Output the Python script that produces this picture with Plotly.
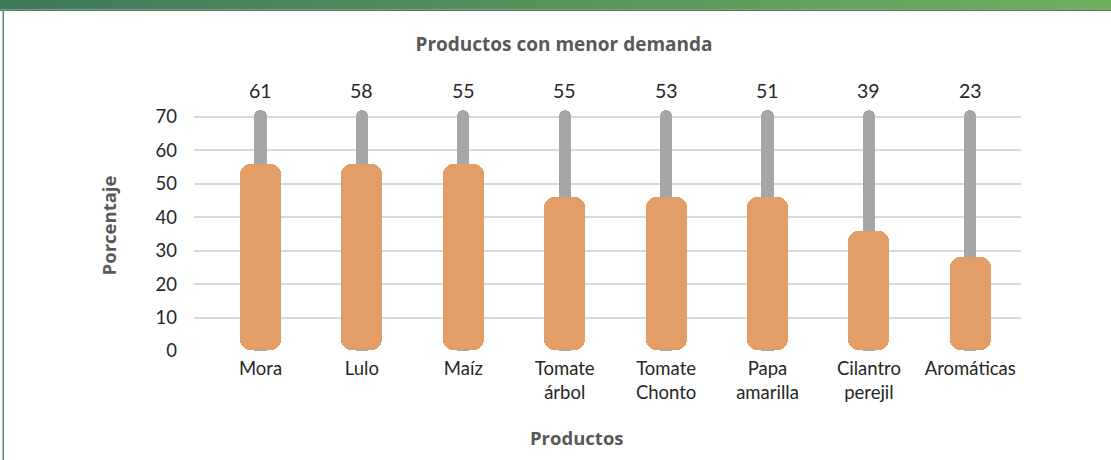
import plotly.graph_objects as go

categories = ["Mora", "Lulo", "Maíz", "Tomate<br>árbol", "Tomate<br>Chonto",
              "Papa<br>amarilla", "Cilantro<br>perejil", "Aromáticas"]
label_values = [61, 58, 55, 55, 53, 51, 39, 23]
bar_heights = [56, 56, 56, 46, 46, 46, 36, 28]
track_heights = [72, 72, 72, 72, 72, 72, 72, 72]
y_ticks = [0, 10, 20, 30, 40, 50, 60, 70]

W, H = 1111, 460
L, R, T, B = 194, 1021, 100, 351

ORANGE = "#e29e66"
GRAY = "#a6a6a6"
FONT = "Lato, 'Open Sans', sans-serif"
TFONT = "'Open Sans', sans-serif"

fig = go.Figure()

def px_x(p):
    return (p - L) / (R - L)

def px_y(p):
    return (B - p) / (B - T)

# gray track bars
fig.add_trace(go.Bar(x=categories, y=track_heights, width=0.12,
                     marker=dict(color=GRAY, cornerradius=6, line=dict(width=0)),
                     hoverinfo="skip", showlegend=False))
# orange bars (base set so both ends get rounded)
fig.add_trace(go.Bar(x=categories, y=[h - 0.3 for h in bar_heights], base=[0.3] * len(bar_heights),
                     width=0.405,
                     marker=dict(color=ORANGE, cornerradius=10, line=dict(width=0)),
                     showlegend=False))

# value labels above
for c, v in zip(categories, label_values):
    fig.add_annotation(x=c, y=px_y(90), text=str(v), showarrow=False, xref="x", yref="paper",
                       yanchor="middle",
                       font=dict(family=FONT, size=19.5, color="#262626"))

# x axis title
fig.add_annotation(x=px_x(577), y=px_y(437), xref="paper", yref="paper",
                   text="<b>Productos</b>", showarrow=False, yanchor="middle",
                   font=dict(family=TFONT, size=18.5, color="#595959"))

shapes = []
# green gradient band on top
n = 60
c0 = (0x3e, 0x7a, 0x5b)
c1 = (0x70, 0xae, 0x5e)
for i in range(n):
    t = i / (n - 1)
    col = "rgb(%d,%d,%d)" % tuple(round(a + (b - a) * t) for a, b in zip(c0, c1))
    x0 = W * i / n
    x1 = W * (i + 1) / n + 1
    shapes.append(dict(type="rect", xref="paper", yref="paper",
                       x0=px_x(x0), x1=px_x(x1), y0=px_y(9.5), y1=px_y(-1),
                       fillcolor=col, line=dict(width=0), layer="above"))
shapes.append(dict(type="rect", xref="paper", yref="paper",
                   x0=px_x(0), x1=px_x(W), y0=px_y(11), y1=px_y(9.5),
                   fillcolor="#4e7d5a", line=dict(width=0), layer="above"))
shapes.append(dict(type="rect", xref="paper", yref="paper",
                   x0=px_x(2.5), x1=px_x(4), y0=px_y(H + 2), y1=px_y(10),
                   fillcolor="#5a8a68", line=dict(width=0), layer="above"))

fig.update_layout(
    width=W, height=H,
    margin=dict(l=L, r=W - R, t=T, b=H - B, pad=0),
    paper_bgcolor="white", plot_bgcolor="white",
    barmode="overlay", bargap=0,
    shapes=shapes,
    title=dict(text="<b>Productos con menor demanda</b>", x=564 / W, xanchor="center",
               y=1 - 44 / H, yanchor="middle",
               font=dict(family=TFONT, size=19, color="#595959")),
    xaxis=dict(range=[-0.656, 7.5], showgrid=False, zeroline=False, showline=False,
               ticks="", ticklabelstandoff=4,
               tickfont=dict(family=FONT, size=18.5, color="#262626")),
    yaxis=dict(range=[0, 75], tickvals=y_ticks, showgrid=True, gridcolor="#d9d9d9",
               gridwidth=1.5, zeroline=False, showline=False, ticks="",
               ticklabelstandoff=16,
               tickfont=dict(family=FONT, size=18.5, color="#262626"),
               title=dict(text="<b>Porcentaje</b>", standoff=34,
                          font=dict(family=TFONT, size=18.5, color="#595959"))),
)

fig.write_html("out.html", config={"displayModeBar": False},
               post_script="document.body.style.margin='0';")
